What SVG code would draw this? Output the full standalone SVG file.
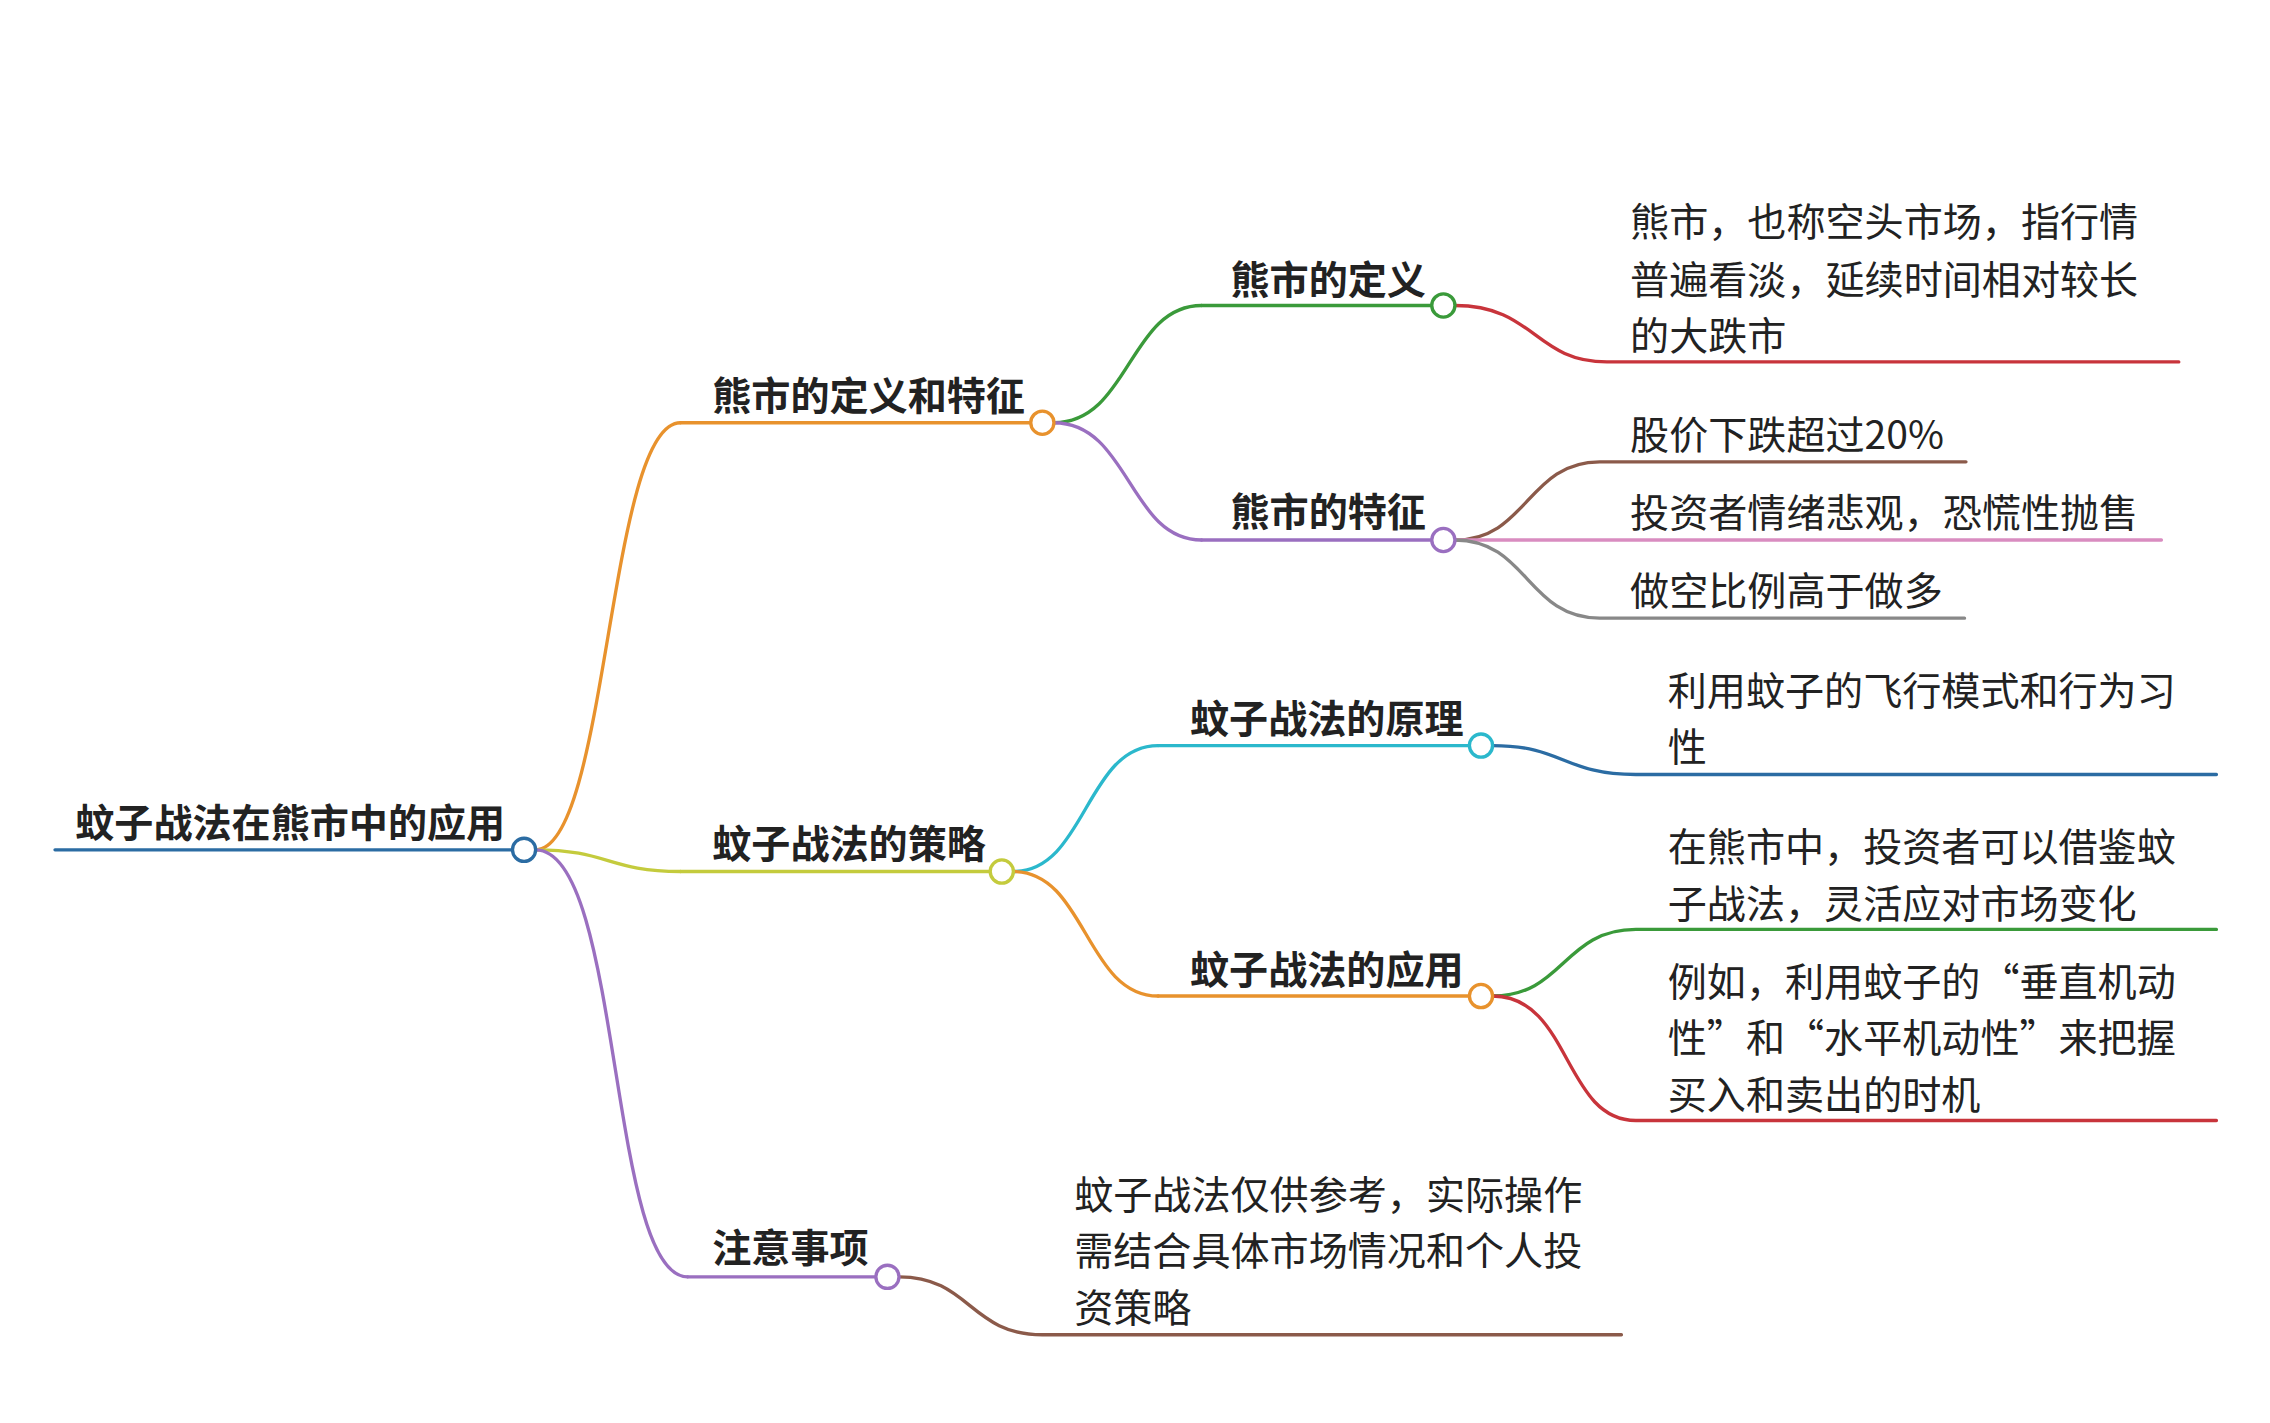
<svg xmlns="http://www.w3.org/2000/svg" width="2270" height="1423" viewBox="0 0 2270 1423">
<style>
text{font-family:"Noto Sans CJK SC","Noto Sans",sans-serif;font-size:27px;fill:#222}
.b{font-weight:bold}
path,line{fill:none;stroke-width:2.3;stroke-linecap:round}
circle{fill:#fff;stroke-width:2.3}
</style>
<rect width="2270" height="1423" fill="#fff"/>
<g transform="scale(1.4477)">
<g id="connectors">
<path d="M370 587 C420 587 420 292 470 292" stroke="#e8922d"/>
<path d="M370 587 C420 587 420 602 470 602" stroke="#c4cb3d"/>
<path d="M370 587 C430 587 420 882 475 882" stroke="#9a6fc0"/>
<path d="M728 292 C780 292 780 211 830 211" stroke="#3a9a3a"/>
<path d="M728 292 C780 292 780 373 830 373" stroke="#9a6fc0"/>
<path d="M700 602 C750 602 750 515 800 515" stroke="#2bb8cc"/>
<path d="M700 602 C750 602 750 688 800 688" stroke="#e8922d"/>
<path d="M1005 211 C1060 211 1060 250 1110 250 L1505 250" stroke="#c8343b"/>
<path d="M1005 373 C1055 373 1055 319 1105 319 L1358 319" stroke="#8b5a4a"/>
<path d="M1005 373 L1493 373" stroke="#d98cc0"/>
<path d="M1005 373 C1055 373 1055 427 1105 427 L1357 427" stroke="#888"/>
<path d="M1031 515 C1080 515 1080 535 1130 535 L1531 535" stroke="#2b6ca3"/>
<path d="M1031 688 C1080 688 1080 642 1130 642 L1531 642" stroke="#3a9a3a"/>
<path d="M1031 688 C1085 688 1080 774 1130 774 L1531 774" stroke="#c8343b"/>
<path d="M621 882 C670 882 670 922 720 922 L1120 922" stroke="#8b5a4a"/>
</g>
<g id="root"><line x1="38" y1="587" x2="354" y2="587" stroke="#2b6ca3"/><circle cx="362" cy="587" r="8" stroke="#2b6ca3"/><text class="b" x="52" y="578">蚊子战法在熊市中的应用</text></g>
<g id="n1"><line x1="470" y1="292" x2="712" y2="292" stroke="#e8922d"/><circle cx="720" cy="292" r="8" stroke="#e8922d"/><text class="b" x="492" y="283">熊市的定义和特征</text></g>
<g id="n2"><line x1="470" y1="602" x2="684" y2="602" stroke="#c4cb3d"/><circle cx="692" cy="602" r="8" stroke="#c4cb3d"/><text class="b" x="492" y="593">蚊子战法的策略</text></g>
<g id="n3"><line x1="475" y1="882" x2="605" y2="882" stroke="#9a6fc0"/><circle cx="613" cy="882" r="8" stroke="#9a6fc0"/><text class="b" x="492" y="872">注意事项</text></g>
<g id="n11"><line x1="830" y1="211" x2="989" y2="211" stroke="#3a9a3a"/><circle cx="997" cy="211" r="8" stroke="#3a9a3a"/><text class="b" x="850" y="203">熊市的定义</text></g>
<g id="n12"><line x1="830" y1="373" x2="989" y2="373" stroke="#9a6fc0"/><circle cx="997" cy="373" r="8" stroke="#9a6fc0"/><text class="b" x="850" y="363">熊市的特征</text></g>
<g id="n21"><line x1="800" y1="515" x2="1015" y2="515" stroke="#2bb8cc"/><circle cx="1023" cy="515" r="8" stroke="#2bb8cc"/><text class="b" x="822" y="506">蚊子战法的原理</text></g>
<g id="n22"><line x1="800" y1="688" x2="1015" y2="688" stroke="#e8922d"/><circle cx="1023" cy="688" r="8" stroke="#e8922d"/><text class="b" x="822" y="680">蚊子战法的应用</text></g>
<g id="l111"><text x="1126" y="163">熊市，也称空头市场，指行情</text><text x="1126" y="203">普遍看淡，延续时间相对较长</text><text x="1126" y="242">的大跌市</text></g>
<g id="l121"><text x="1126" y="310">股价下跌超过20%</text></g>
<g id="l122"><text x="1126" y="364">投资者情绪悲观，恐慌性抛售</text></g>
<g id="l123"><text x="1126" y="418">做空比例高于做多</text></g>
<g id="l211"><text x="1152" y="487">利用蚊子的飞行模式和行为习</text><text x="1152" y="526">性</text></g>
<g id="l221"><text x="1152" y="595">在熊市中，投资者可以借鉴蚊</text><text x="1152" y="634">子战法，灵活应对市场变化</text></g>
<g id="l222"><text x="1152" y="688">例如，利用蚊子的“垂直机动</text><text x="1152" y="727">性”和“水平机动性”来把握</text><text x="1152" y="766">买入和卖出的时机</text></g>
<g id="l31"><text x="742" y="835">蚊子战法仅供参考，实际操作</text><text x="742" y="874">需结合具体市场情况和个人投</text><text x="742" y="913">资策略</text></g>
</g>
</svg>
